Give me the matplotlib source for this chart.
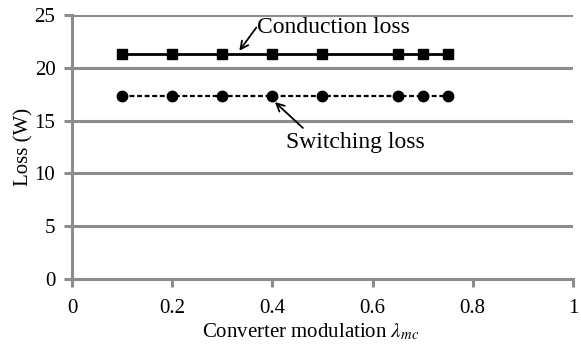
import matplotlib
matplotlib.use("Agg")
import matplotlib.pyplot as plt

x_mod = [0.1, 0.2, 0.3, 0.4, 0.5, 0.65, 0.7, 0.75]
conduction = [21.3, 21.3, 21.3, 21.3, 21.3, 21.3, 21.3, 21.3]
switching = [17.3, 17.3, 17.3, 17.3, 17.3, 17.3, 17.3, 17.3]
x_ticks = [0, 0.2, 0.4, 0.6, 0.8, 1]
x_tick_labels = ["0", "0.2", "0.4", "0.6", "0.8", "1"]
y_ticks = [0, 5, 10, 15, 20, 25]

plt.rcParams['font.family'] = ['Liberation Serif', 'DejaVu Serif']
plt.rcParams['mathtext.fontset'] = 'stix'

fig = plt.figure(figsize=(5.81, 3.45), dpi=100)
ax = fig.add_axes([0.124, 0.191, 0.862, 0.766])

grid_c = '#8c8c8c'
ax.plot(x_mod, conduction, '-', color='black', lw=2, marker='s', ms=7, zorder=3)
ax.plot(x_mod, switching, '--', color='black', lw=1.6, marker='o', ms=7.5, zorder=3, dashes=(2.2, 1.2))

ax.set_xlim(0, 1)
ax.set_ylim(0, 25)
ax.set_xticks(x_ticks)
ax.set_xticklabels(x_tick_labels)
ax.set_yticks(y_ticks)
ax.yaxis.grid(True, color=grid_c, lw=2.2)
ax.set_axisbelow(True)
for s in ['top', 'right']:
    ax.spines[s].set_visible(False)
for s in ['left', 'bottom']:
    ax.spines[s].set_color(grid_c)
    ax.spines[s].set_linewidth(2.2)
ax.tick_params(axis='both', colors=grid_c, width=2.2, length=6, labelcolor='black', labelsize=15)
ax.tick_params(axis='y', pad=6)
ax.tick_params(axis='x', pad=8)

ax.set_xlabel(r'Converter modulation $\lambda_{mc}$', fontsize=15)
ax.xaxis.set_label_coords(0.477, -0.16)
ax.set_ylabel('Loss (W)', fontsize=15)
ax.yaxis.set_label_coords(-0.076, 0.5)

arrow_kw = dict(arrowstyle='->', color='black', lw=1.3, shrinkA=0, shrinkB=0, mutation_scale=14)
ax.annotate('', xy=(0.334, 21.6), xytext=(0.368, 23.8), arrowprops=arrow_kw)
ax.text(0.370, 23.8, 'Conduction loss', fontsize=17, va='center', ha='left')
ax.annotate('', xy=(0.405, 16.75), xytext=(0.461, 14.3), arrowprops=arrow_kw)
ax.text(0.428, 12.9, 'Switching loss', fontsize=17, va='center', ha='left')

fig.savefig('out.png', dpi=100)
